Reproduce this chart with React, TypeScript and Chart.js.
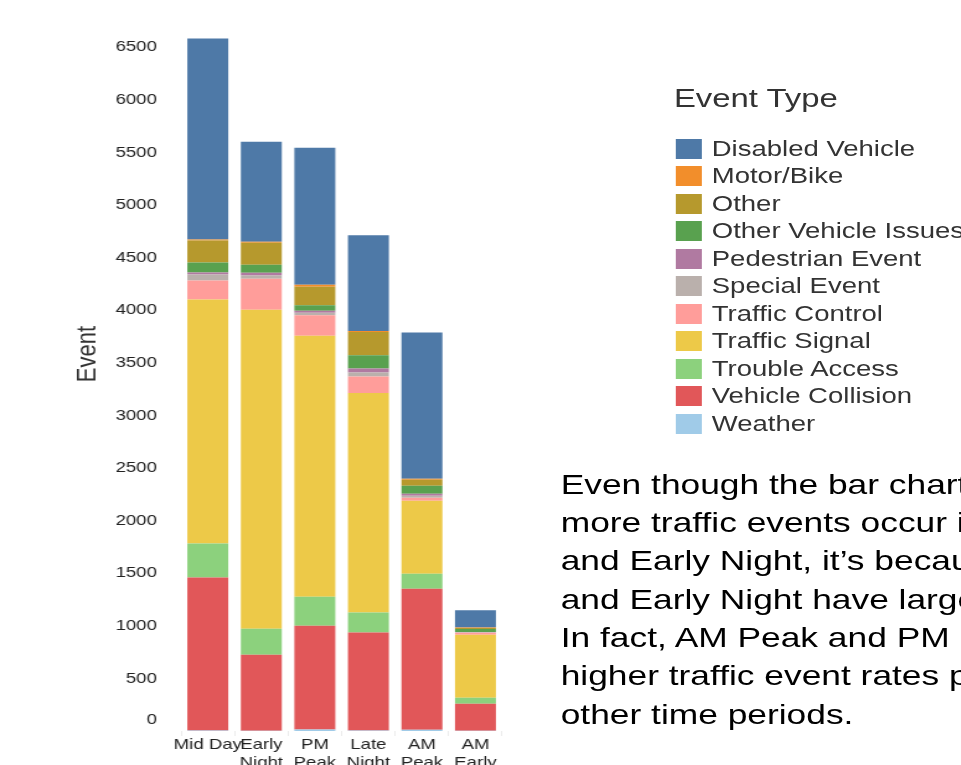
import React, { useEffect, useRef } from "react";
import { Chart, registerables } from "chart.js";

Chart.register(...registerables);

// ---------- data ----------
const CATEGORIES: (string | string[])[] = [
  "Mid Day",
  ["Early", "Night"],
  ["PM", "Peak"],
  ["Late", "Night"],
  ["AM", "Peak"],
  ["AM", "Early"],
];

const Y_TICKS = [0, 500, 1000, 1500, 2000, 2500, 3000, 3500, 4000, 4500, 5000, 5500, 6000, 6500];

// values per category (Mid Day, Early Night, PM Peak, Late Night, AM Peak, AM Early)
const DISABLED_VEHICLE = [1911, 951, 1302, 910, 1388, 162];
const MOTOR_BIKE = [10, 10, 19, 10, 10, 5];
const OTHER = [209, 209, 178, 222, 57, 10];
const OTHER_VEHICLE_ISSUES = [95, 76, 50, 124, 76, 28];
const PEDESTRIAN_EVENT = [19, 25, 19, 38, 19, 3];
const SPECIAL_EVENT = [57, 32, 26, 38, 19, 5];
const TRAFFIC_CONTROL = [181, 295, 193, 159, 29, 19];
const TRAFFIC_SIGNAL = [2319, 3032, 2481, 2085, 694, 599];
const TROUBLE_ACCESS = [323, 247, 276, 190, 143, 57];
const VEHICLE_COLLISION = [1454, 722, 986, 932, 1340, 257];
const WEATHER = [5, 3, 15, 5, 12, 2];

const EVENT_TYPES = [
  "Disabled Vehicle",
  "Motor/Bike",
  "Other",
  "Other Vehicle Issues",
  "Pedestrian Event",
  "Special Event",
  "Traffic Control",
  "Traffic Signal",
  "Trouble Access",
  "Vehicle Collision",
  "Weather",
];
const EVENT_COLORS = [
  "#4E79A7",
  "#F28E2B",
  "#B6992D",
  "#59A14F",
  "#B07AA1",
  "#BAB0AC",
  "#FF9D9A",
  "#EDC948",
  "#8CD17D",
  "#E15759",
  "#A0CBE8",
];
const EVENT_VALUES = [
  DISABLED_VEHICLE,
  MOTOR_BIKE,
  OTHER,
  OTHER_VEHICLE_ISSUES,
  PEDESTRIAN_EVENT,
  SPECIAL_EVENT,
  TRAFFIC_CONTROL,
  TRAFFIC_SIGNAL,
  TROUBLE_ACCESS,
  VEHICLE_COLLISION,
  WEATHER,
];

const NOTE_LINES = [
  "Even though the bar chart shows",
  "more traffic events occur in Mid Day",
  "and Early Night, it\u2019s because Mid Day",
  "and Early Night have larger time spans.",
  "In fact, AM Peak and PM Peak have",
  "higher traffic event rates per hour than",
  "other time periods.",
];

const FONT = '"Liberation Sans", Arial, Helvetica, sans-serif';
const SX = 1.24;

const yLabelsPlugin = {
  id: "yLabels",
  afterDraw(chart: any) {
    const { ctx, chartArea } = chart;
    const ys = chart.scales.y;
    ctx.save();
    ctx.fillStyle = "#222";
    ctx.font = `15px ${FONT}`;
    ctx.textAlign = "right";
    ctx.textBaseline = "middle";
    for (const v of Y_TICKS) {
      let py = ys.getPixelForValue(v);
      if (py > chartArea.bottom - 11) py = chartArea.bottom - 11;
      ctx.fillText(String(v), 126.5, py);
    }
    ctx.translate(71, 354);
    ctx.rotate(-Math.PI / 2);
    ctx.textAlign = "center";
    ctx.fillStyle = "#333";
    ctx.font = `22px ${FONT}`;
    ctx.fillText("Event", 0, 0);
    ctx.restore();
  },
};

export default function App() {
  const canvasRef = useRef<HTMLCanvasElement | null>(null);

  useEffect(() => {
    if (!canvasRef.current) return;
    // stacking order: bottom first
    const datasets = EVENT_TYPES.map((name, i) => ({
      label: name,
      data: EVENT_VALUES[i],
      backgroundColor: EVENT_COLORS[i],
      borderWidth: 0,
      categoryPercentage: 1,
      barPercentage: 0.765,
    })).reverse();

    const chart = new Chart(canvasRef.current, {
      type: "bar",
      data: { labels: CATEGORIES as any, datasets },
      options: {
        animation: false,
        responsive: false,
        devicePixelRatio: 1,
        layout: { padding: { top: 36.7, right: 15, left: 0, bottom: 0 } },
        plugins: { legend: { display: false }, tooltip: { enabled: false } },
        scales: {
          x: {
            stacked: true,
            grid: {
              display: true,
              drawOnChartArea: false,
              drawTicks: true,
              tickLength: 5,
              color: "#ececec",
              offset: true,
            },
            border: { display: false },
            ticks: {
              autoSkip: false,
              maxRotation: 0,
              minRotation: 0,
              padding: 0,
              color: "#222",
              font: { family: FONT, size: 15, lineHeight: 1.2 },
            },
            afterFit: (s: any) => {
              s.height = 69;
            },
          },
          y: {
            stacked: true,
            min: 0,
            max: 6600,
            grid: { display: false },
            border: { display: false },
            ticks: { display: false },
            afterFit: (s: any) => {
              s.width = 146;
            },
          },
        },
      },
      plugins: [yLabelsPlugin],
    });
    return () => chart.destroy();
  }, []);

  return (
    <div
      style={{
        position: "fixed",
        left: 0,
        top: 0,
        width: 961,
        height: 765,
        overflow: "hidden",
        background: "#fff",
      }}
    >
      <div
        style={{
          position: "absolute",
          left: 0,
          top: 0,
          width: 961 / SX,
          height: 800,
          transform: `scaleX(${SX})`,
          transformOrigin: "0 0",
          fontFamily: FONT,
        }}
      >
        <canvas
          ref={canvasRef}
          width={420}
          height={800}
          style={{ position: "absolute", left: 0, top: 0 }}
        />
        <div
          style={{
            position: "absolute",
            left: 543.5,
            top: 84.5,
            fontSize: 26.5,
            lineHeight: "26.5px",
            color: "#333",
            whiteSpace: "nowrap",
          }}
        >
          Event Type
        </div>
        {EVENT_TYPES.map((name, i) => (
          <div
            key={name}
            style={{
              position: "absolute",
              left: 545.2,
              top: 139 + 27.45 * i,
              height: 20,
              display: "flex",
              alignItems: "center",
              whiteSpace: "nowrap",
            }}
          >
            <div style={{ width: 21, height: 20, background: EVENT_COLORS[i], flex: "none" }} />
            <div
              style={{
                marginLeft: 7.8,
                fontSize: 22.2,
                lineHeight: "20px",
                color: "#333",
              }}
            >
              {name}
            </div>
          </div>
        ))}
        <div
          style={{
            position: "absolute",
            left: 452.2,
            top: 464.8,
            fontSize: 28.5,
            lineHeight: "38.3px",
            color: "#000",
            whiteSpace: "nowrap",
          }}
        >
          {NOTE_LINES.map((l, i) => (
            <div key={i}>{l}</div>
          ))}
        </div>
      </div>
    </div>
  );
}
